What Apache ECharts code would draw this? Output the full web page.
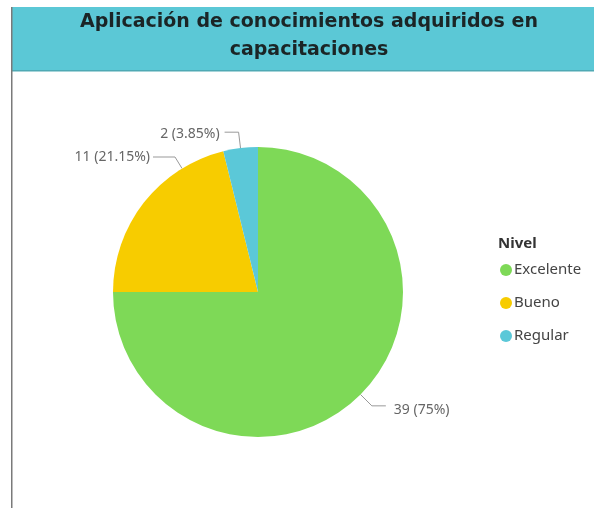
<!DOCTYPE html>
<html>
<head>
<meta charset="utf-8">
<title>Aplicación de conocimientos adquiridos en capacitaciones</title>
<script src="https://cdn.jsdelivr.net/npm/echarts@6/dist/echarts.min.js"></script>
<style>
  html, body { margin: 0; padding: 0; background: #ffffff; }
  #chart { width: 594px; height: 508px; }
</style>
</head>
<body>
<div id="chart"></div>
<script>
// Levels and the number of answers for each
const categories = ['Excelente', 'Bueno', 'Regular'];
const counts = [39, 11, 2];
const sliceColors = ['#7ED957', '#F7CC00', '#5BC8D8'];

const PIE_CENTER = [258, 292];
const PIE_RADIUS = 145;

const chart = echarts.init(document.getElementById('chart'), null, { renderer: 'canvas' });

const pieData = categories.map((name, i) => ({
  name: name,
  value: counts[i],
  itemStyle: { color: sliceColors[i] }
}));

// point on the pie rim in the direction of (x, y)
function rimPoint(x, y) {
  const dx = x - PIE_CENTER[0];
  const dy = y - PIE_CENTER[1];
  const len = Math.sqrt(dx * dx + dy * dy);
  return [PIE_CENTER[0] + dx / len * PIE_RADIUS, PIE_CENTER[1] + dy / len * PIE_RADIUS];
}

chart.setOption({
  animation: false,
  backgroundColor: '#ffffff',
  graphic: [
    // header band
    { type: 'rect', left: 11, top: 7, shape: { width: 583, height: 64 }, style: { fill: '#5BC8D6' }, z: 0 },
    { type: 'rect', left: 11, top: 70, shape: { width: 583, height: 1.5 }, style: { fill: '#4FA9B4' }, z: 1 },
    // left frame line
    { type: 'rect', left: 11, top: 7, shape: { width: 1.5, height: 501 }, style: { fill: '#7a7a7a' }, z: 2 }
  ],
  title: [
    {
      text: 'Aplicación de conocimientos adquiridos en\ncapacitaciones',
      left: 309,
      top: 8,
      padding: 0,
      textAlign: 'center',
      textStyle: {
        fontFamily: 'DejaVu Sans',
        fontWeight: 'bold',
        fontSize: 19,
        lineHeight: 28,
        color: '#1b2526'
      }
    },
    {
      text: 'Nivel',
      left: 498,
      top: 236,
      padding: 0,
      textStyle: { fontFamily: 'Noto Sans', fontWeight: 'bold', fontSize: 15, lineHeight: 16, color: '#333333' }
    }
  ],
  legend: {
    orient: 'vertical',
    left: 500,
    top: 262,
    padding: 0,
    icon: 'circle',
    itemWidth: 12,
    itemHeight: 12,
    itemGap: 17,
    textStyle: { fontFamily: 'Noto Sans', fontSize: 15, lineHeight: 16, color: '#444444', padding: [0, 0, 0, -3] },
    data: categories
  },
  series: [
    {
      type: 'pie',
      center: PIE_CENTER,
      radius: PIE_RADIUS,
      startAngle: 90,
      clockwise: true,
      avoidLabelOverlap: true,
      data: pieData,
      label: {
        show: true,
        formatter: p => p.value + ' (' + p.percent + '%)',
        fontFamily: 'Noto Sans',
        fontSize: 14,
        color: '#666666'
      },
      labelLine: {
        show: true,
        length: 16,
        length2: 14,
        lineStyle: { color: '#999999', width: 1 }
      },
      // nudge labels beside their slices
      labelLayout: function (params) {
        if (params.dataIndex === 1) {
          const labelRight = 150;
          const labelY = 157;
          const elbow = [labelRight + 25, labelY];
          return {
            x: labelRight,
            y: labelY,
            align: 'right',
            verticalAlign: 'middle',
            labelLinePoints: [rimPoint(elbow[0], elbow[1]), elbow, [labelRight + 3, labelY]]
          };
        }
        if (params.dataIndex === 0) {
          return { dx: 3, dy: 4 };
        }
        if (params.dataIndex === 2) {
          return { dy: 2 };
        }
        return {};
      },
      emphasis: { disabled: true }
    }
  ]
});
</script>
</body>
</html>
